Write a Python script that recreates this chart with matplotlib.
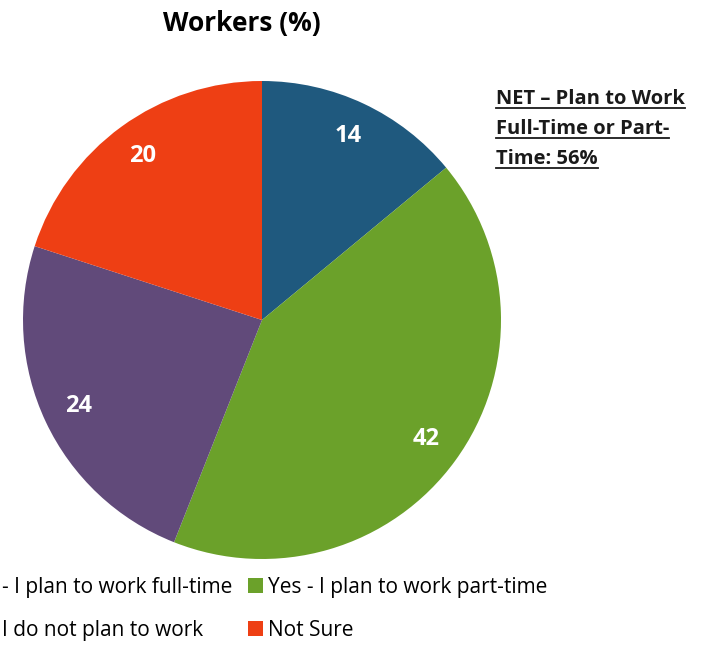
import matplotlib.pyplot as plt
from matplotlib.lines import Line2D
from matplotlib.patches import Patch

plt.rcParams['font.family'] = ['Open Sans', 'DejaVu Sans']

# legend labels as far as they are visible (the left edge of the chart is cropped)
labels = ['- I plan to work full-time', 'Yes - I plan to work part-time',
          'I do not plan to work', 'Not Sure']
values = [14, 42, 24, 20]
colors = ['#1F597E', '#6BA12A', '#614A7A', '#EE3F14']
title = 'Workers (%)'
net_lines = ['NET – Plan to Work', 'Full-Time or Part-', 'Time: 56%']

W, H = 704, 645
fig = plt.figure(figsize=(W / 100, H / 100), dpi=100)

cx, cy, r = 262, 320, 239
ax = fig.add_axes([(cx - r) / W, (H - cy - r) / H, 2 * r / W, 2 * r / H])
wedges, texts, autotexts = ax.pie(values, colors=colors, startangle=90, counterclock=False,
                                  autopct=lambda p: '%d' % round(p), pctdistance=0.85,
                                  wedgeprops=dict(linewidth=0))
for t in autotexts:
    t.set_color('white')
    t.set_fontweight('bold')
    t.set_fontsize(17)
ax.set_xlim(-1, 1)
ax.set_ylim(-1, 1)
ax.set_aspect('equal')
ax.axis('off')

fig.text(242 / W, 1 - 24 / H, title, ha='center', va='center', fontsize=19, fontweight='bold')

# NET annotation, underlined line by line
fig.canvas.draw()
renderer = fig.canvas.get_renderer()
y0 = 99
for i, line in enumerate(net_lines):
    yy = 1 - (y0 + i * 30) / H
    t = fig.text(496 / W, yy, line, ha='left', va='center', fontsize=14.5, fontweight='bold',
                 color='#1a1a1a')
    bb = t.get_window_extent(renderer=renderer)
    uy = bb.y0 / H + 1 / H
    fig.add_artist(Line2D([bb.x0 / W, bb.x1 / W], [uy, uy], color='#1a1a1a', lw=1.3))

# row-wise order: matplotlib fills legend columns first
order = [0, 2, 1, 3]
handles = [Patch(facecolor=colors[i], edgecolor='none') for i in order]
leg = fig.legend(handles, [labels[i] for i in order], ncol=2, loc='center left',
                 bbox_to_anchor=(-18 / W, 1 - 609 / H), borderpad=0, borderaxespad=0,
                 frameon=False, fontsize=15, handlelength=0.72, handleheight=0.72,
                 handletextpad=0.24, columnspacing=0.75, labelspacing=1.05)

fig.savefig('out.png', dpi=100)
